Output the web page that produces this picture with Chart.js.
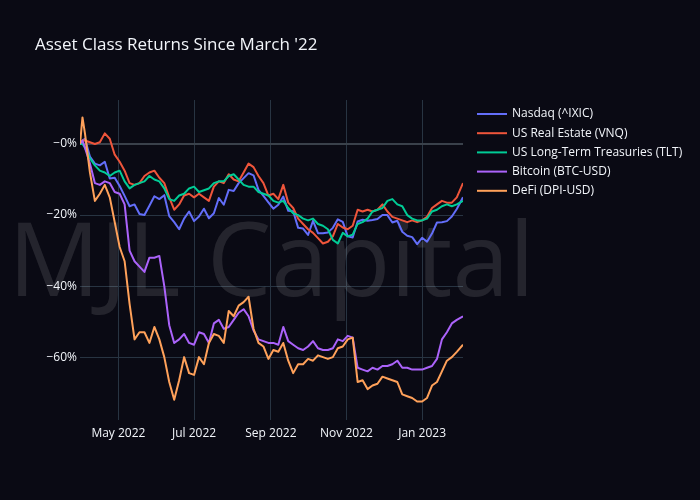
<!DOCTYPE html>
<html>
<head>
<meta charset="utf-8">
<script src="https://cdn.jsdelivr.net/npm/chart.js@4.4.0/dist/chart.umd.min.js"></script>
<style>
  html, body { margin: 0; padding: 0; background: #0a0a14; }
  #wrap { width: 700px; height: 500px; }
</style>
</head>
<body>
<div id="wrap"><canvas id="chart" width="700" height="500"></canvas></div>
<script>
// days since 31 Mar 2022
const days = [
  0, 2, 4, 8, 12, 16, 20, 24, 28, 32,
  36, 40, 44, 48, 52, 56, 60, 64, 68, 72,
  76, 80, 84, 88, 92, 96, 100, 104, 108, 112,
  116, 120, 124, 128, 132, 136, 140, 144, 148, 152,
  156, 160, 164, 168, 172, 176, 180, 184, 188, 192,
  196, 200, 204, 208, 212, 216, 220, 224, 228, 232,
  236, 240, 244, 248, 252, 256, 260, 264, 268, 272,
  276, 280, 284, 288, 292, 296, 300, 304, 309
];

const monthTicks = [31, 92, 154, 215, 276];
const monthLabels = ['May 2022', 'Jul 2022', 'Sep 2022', 'Nov 2022', 'Jan 2023'];
const pctTicks = [-60, -40, -20, 0];

const names = ['Nasdaq (^IXIC)', 'US Real Estate (VNQ)', 'US Long-Term Treasuries (TLT)', 'Bitcoin (BTC-USD)', 'DeFi (DPI-USD)'];
const colors = ['#636efa', '#ef553b', '#00cc96', '#ab63fa', '#ffa15a'];

const nasdaq = [
  0, 1, 1.5, -3.5, -5.5, -6, -5, -9.7, -9.5, -11.8,
  -14.6, -17.5, -17, -19.7, -20, -17.4, -14.7, -15.5, -14.4, -20.3,
  -22, -24, -21, -19, -21.7, -20.4, -18.2, -20.9, -19.5, -15.2,
  -17.1, -12.9, -13.2, -11, -9.6, -8.2, -8.8, -12.9, -14.6, -16.4,
  -18.2, -17.1, -14.8, -18.8, -18.9, -23.6, -23.8, -25.6, -21.6, -25.1,
  -25.1, -24.9, -23.6, -21.2, -21.9, -26, -26.3, -21.8, -21.3, -21.6,
  -21.4, -21.1, -20, -20, -22.1, -21.6, -24.7, -25.8, -26.2, -28.2,
  -26.4, -27.5, -25.2, -22.1, -22, -21.7, -20.4, -18.3, -15
];
const vnq = [
  0, 1, 1, 0.5, 0, 0.5, 3, 1.5, -3, -5,
  -7.5, -11, -11.5, -11, -9, -8, -7.5, -9.5, -11, -15,
  -18.5, -17, -14.5, -14, -15, -14, -15, -16, -12, -10.5,
  -11, -8.5, -10, -10.5, -8, -5.5, -6.5, -9, -11, -14.5,
  -14, -15.5, -11.5, -16.5, -18, -21, -22.5, -24, -25, -26.5,
  -28, -27.5, -26, -22.5, -23.5, -24, -23, -18.5, -19, -18.5,
  -19, -18.5, -17, -19, -20.5, -21, -21.5, -22, -21.5, -22,
  -21.5, -20.5, -18, -17, -16, -16.5, -16.5, -15, -11
];
const tlt = [
  0, 0, -1, -4, -6, -7.5, -8, -9, -8, -7.5,
  -10.5, -12.5, -11.5, -11, -10.5, -9, -10, -10.5, -12.5, -15.5,
  -16, -14.5, -14, -12.5, -12, -13.5, -13, -12.5, -11, -10.5,
  -10.5, -9, -8.5, -10, -11.5, -12, -12, -13.5, -14, -14.5,
  -16, -16.5, -16, -18, -19.5, -20, -21, -21.5, -21, -22.5,
  -23, -24, -27, -28, -25, -26, -25.5, -22.5, -22, -21,
  -19, -18.5, -18, -16, -15.5, -17, -17.5, -20, -21, -21.5,
  -21.5, -21, -19, -18.5, -17.5, -17, -17.5, -17, -16
];
const btc = [
  0, 1, -1, -5.5, -11, -11.5, -10.5, -11, -13.5, -14,
  -17, -30, -33, -34.5, -36, -32, -32, -31.5, -40, -51,
  -56, -55, -53.5, -56, -56.5, -53, -53.5, -56, -50.5, -49.5,
  -52, -51.5, -49.5, -47.5, -46.5, -48.5, -52.5, -55, -55.5, -56,
  -56, -56.5, -51.5, -55.5, -56.5, -57.5, -58, -57, -55.5, -57.5,
  -58, -58, -57.5, -55, -55.5, -54, -54.5, -63, -63.5, -64,
  -63, -63.5, -62.5, -62.5, -62, -61, -63, -63, -63.5, -63.5,
  -63.5, -63, -62.5, -60.5, -55, -53, -50.5, -49.5, -48.5
];
const dpi = [
  0, 7.5, 3, -8, -16, -14, -11.5, -15, -22, -29,
  -33, -45, -55, -53, -53, -56, -51.5, -55, -60, -67,
  -72, -66.5, -60, -64.5, -65, -60, -62, -56, -53.5, -54,
  -56, -47, -48.5, -45.5, -44.5, -43, -52, -56, -57, -60.5,
  -58, -58.5, -56, -61, -64.5, -62, -62, -60.5, -61, -59.5,
  -60, -60.5, -60, -57.5, -57, -55, -54.5, -67, -66.5, -69,
  -68, -67.5, -65.5, -66, -66.5, -67, -70.5, -71, -71.5, -72.5,
  -72.5, -71.5, -68, -67, -64, -61, -60, -58.5, -56.5
];

const series = [nasdaq, vnq, tlt, btc, dpi];
const title = "Asset Class Returns Since March '22";
const mark = 'MJL Capital';

const bg = '#0a0a14';
const font = "'Open Sans', sans-serif";
Chart.defaults.font.family = font;
Chart.defaults.color = '#f2f5fa';

const decor = {
  id: 'decor',
  beforeDraw(chart) {
    const c = chart.ctx;
    c.save();
    c.fillStyle = bg;
    c.fillRect(0, 0, chart.width, chart.height);
    c.restore();
  },
  beforeDatasetsDraw(chart) {
    const c = chart.ctx, a = chart.chartArea;
    c.save();
    c.font = "102px " + font;
    c.fillStyle = 'rgba(255,255,255,0.11)';
    c.textAlign = 'center';
    c.textBaseline = 'alphabetic';
    c.fillText(mark, (a.left + a.right) / 2, 296);
    c.restore();
  },
  afterDraw(chart) {
    const c = chart.ctx;
    c.save();
    c.fillStyle = '#f2f5fa';
    c.font = "17px " + font;
    c.textBaseline = 'alphabetic';
    c.fillText(title, 35, 50);
    // legend
    c.font = "12px " + font;
    c.textBaseline = 'middle';
    names.forEach((n, i) => {
      const y = 114 + i * 19.2;
      c.strokeStyle = colors[i];
      c.lineWidth = 2;
      c.beginPath();
      c.moveTo(477, y);
      c.lineTo(507, y);
      c.stroke();
      c.fillText(n, 512, y);
    });
    c.restore();
  }
};

new Chart(document.getElementById('chart'), {
  type: 'line',
  data: {
    datasets: series.map((s, i) => ({
      label: names[i],
      data: s.map((v, j) => ({ x: days[j], y: v })),
      borderColor: colors[i],
      borderWidth: 2,
      pointRadius: 0,
      tension: 0,
      fill: false,
      borderJoinStyle: 'round',
      order: series.length - i
    }))
  },
  options: {
    responsive: false,
    animation: false,
    devicePixelRatio: 1,
    layout: { padding: { top: 100, right: 237, bottom: 0, left: 0 } },
    plugins: { legend: { display: false }, tooltip: { enabled: false } },
    scales: {
      x: {
        type: 'linear',
        min: 0,
        max: 309,
        afterBuildTicks: s => { s.ticks = monthTicks.map(v => ({ value: v })); },
        afterFit: s => { s.height = 80; },
        grid: { color: '#283442', drawTicks: false },
        border: { display: false },
        ticks: {
          padding: 6,
          font: { size: 12 },
          maxRotation: 0,
          autoSkip: false,
          callback: v => monthLabels[monthTicks.indexOf(v)]
        }
      },
      y: {
        min: -77.7,
        max: 12.4,
        afterBuildTicks: s => { s.ticks = pctTicks.map(v => ({ value: v })); },
        afterFit: s => { s.width = 80; },
        grid: {
          color: c => (c.tick && c.tick.value === 0) ? '#3a414b' : '#283442',
          lineWidth: c => (c.tick && c.tick.value === 0) ? 2 : 1,
          drawTicks: false
        },
        border: { display: false },
        ticks: {
          padding: 3,
          font: { size: 12 },
          callback: v => '\u2212' + Math.abs(v) + '%'
        }
      }
    }
  },
  plugins: [decor]
});
</script>
</body>
</html>
